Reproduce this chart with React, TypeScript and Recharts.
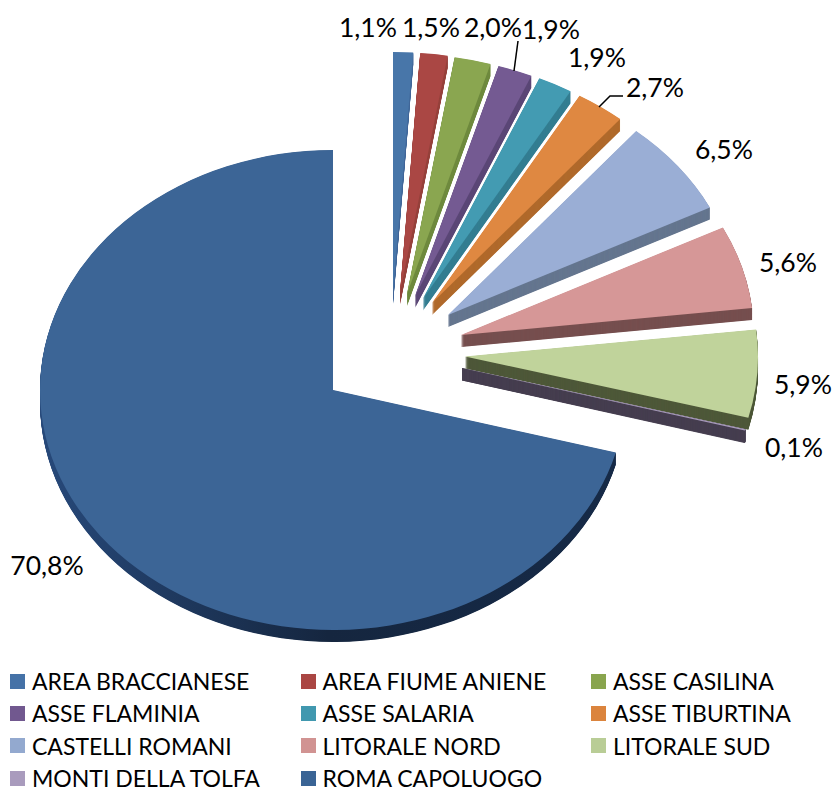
import { Legend, Pie, PieChart, Sector } from "recharts";

const categories = [
  "AREA BRACCIANESE",
  "AREA FIUME ANIENE",
  "ASSE CASILINA",
  "ASSE FLAMINIA",
  "ASSE SALARIA",
  "ASSE TIBURTINA",
  "CASTELLI ROMANI",
  "LITORALE NORD",
  "LITORALE SUD",
  "MONTI DELLA TOLFA",
  "ROMA CAPOLUOGO",
];
const values = [1.1, 1.5, 2.0, 1.9, 1.9, 2.7, 6.5, 5.6, 5.9, 0.1, 70.8];

const topColors = ["#4876a9", "#aa4744", "#8aa650", "#745a92", "#439bb2", "#df8841", "#9aaed5", "#d69797", "#c0d39b", "#a99bbd", "#3c6596"];
const sideColors = ["#41699a", "#96403d", "#6f8a3f", "#5c4877", "#347e92", "#b06a2c", "#65768f", "#764f4f", "#4e5839", "#453e4f", "url(#mainRim)"];
const legendColors = ["#4572a7", "#aa4643", "#89a54e", "#71588f", "#4198af", "#db843d", "#93a9cf", "#d19392", "#b9cd96", "#a99bbd", "#3a6495"];

// exploded slice offsets from the pie centre
const offsetX = [60, 67, 74, 82, 90, 99, 115, 128, 132, 129, 0];
const offsetY = [-98, -97.5, -96, -94, -91.5, -87, -75, -55, -33.5, -22, 0];

const labelX = [368, 431, 493, 551, 597, 655, 724, 788, 803, 794, 47];
const labelY = [27, 27, 27, 29, 57, 87, 149, 262, 384, 447, 565];
const leaderLines: Record<number, string> = {
  3: "518,41 514,71",
  5: "623,96 610,96 599,107",
};

const FONT = "Lato, sans-serif";
const TILT = 240 / 293;
const DEPTH = 12;
const depthSteps = Array.from({ length: DEPTH * 2 }, (_, i) => DEPTH - i / 2);

const data = categories.map((name, i) => ({ name, value: values[i], fill: legendColors[i] }));

function SliceShape(props: any) {
  const { cx, cy, startAngle, endAngle, innerRadius, outerRadius } = props;
  const i = categories.indexOf(props.name);
  const place = (dy: number) =>
    `translate(${cx + offsetX[i]} ${cy + offsetY[i] + dy}) scale(1 ${TILT}) translate(${-cx} ${-cy})`;
  const sector = { cx, cy, startAngle, endAngle, innerRadius, outerRadius };
  // the 0,1% sliver is too thin to fill its side without a stroke
  const sideStroke = i === 9 ? sideColors[i] : "none";
  return (
    <g>
      {depthSteps.map((dy) => (
        <g key={dy} transform={place(dy)}>
          <Sector {...sector} fill={sideColors[i]} stroke={sideStroke} strokeWidth={1} />
        </g>
      ))}
      <g transform={place(0)}>
        <Sector {...sector} fill={topColors[i]} stroke="none" />
      </g>
    </g>
  );
}

function SliceLabel(props: any) {
  const i = props.index;
  return (
    <g>
      {leaderLines[i] && <polyline points={leaderLines[i]} fill="none" stroke="#000" strokeWidth={1.5} />}
      <text x={labelX[i]} y={labelY[i]} textAnchor="middle" dominantBaseline="central" fontFamily={FONT} fontSize={26.5} fill="#000">
        {values[i].toFixed(1).replace(".", ",")}%
      </text>
    </g>
  );
}

function LegendGrid({ payload }: any) {
  return (
    <div style={{ display: "grid", gridTemplateColumns: "290.5px 290.5px 230px", gridAutoRows: "32.3px", paddingLeft: 10 }}>
      {(payload ?? []).map((item: any, i: number) => (
        <div key={item.value} style={{ display: "flex", alignItems: "center", fontFamily: FONT, fontSize: 23, lineHeight: "18px", color: "#000", whiteSpace: "nowrap" }}>
          <span style={{ width: 15, height: 15, marginRight: 7, background: legendColors[i], flex: "none" }} />
          {item.value}
        </div>
      ))}
    </div>
  );
}

export default function App() {
  return (
    <div style={{ position: "absolute", left: 0, top: 0, width: 834, height: 788 }}>
      <PieChart width={834} height={788} margin={{ top: 0, right: 0, bottom: 0, left: 0 }}>
        <defs>
          <linearGradient id="mainRim" x1="0" y1="0" x2="1" y2="0">
            <stop offset="0" stopColor="#27497a" />
            <stop offset="0.5" stopColor="#15263f" />
            <stop offset="1" stopColor="#162a47" />
          </linearGradient>
        </defs>
        <Pie
          data={data}
          dataKey="value"
          nameKey="name"
          cx={333}
          cy={390}
          outerRadius={293}
          startAngle={90}
          endAngle={-270}
          stroke="none"
          shape={SliceShape}
          label={SliceLabel}
          labelLine={false}
          isAnimationActive={false}
        />
        <Legend content={<LegendGrid />} wrapperStyle={{ position: "absolute", left: 0, top: 665, width: 834 }} />
      </PieChart>
    </div>
  );
}
